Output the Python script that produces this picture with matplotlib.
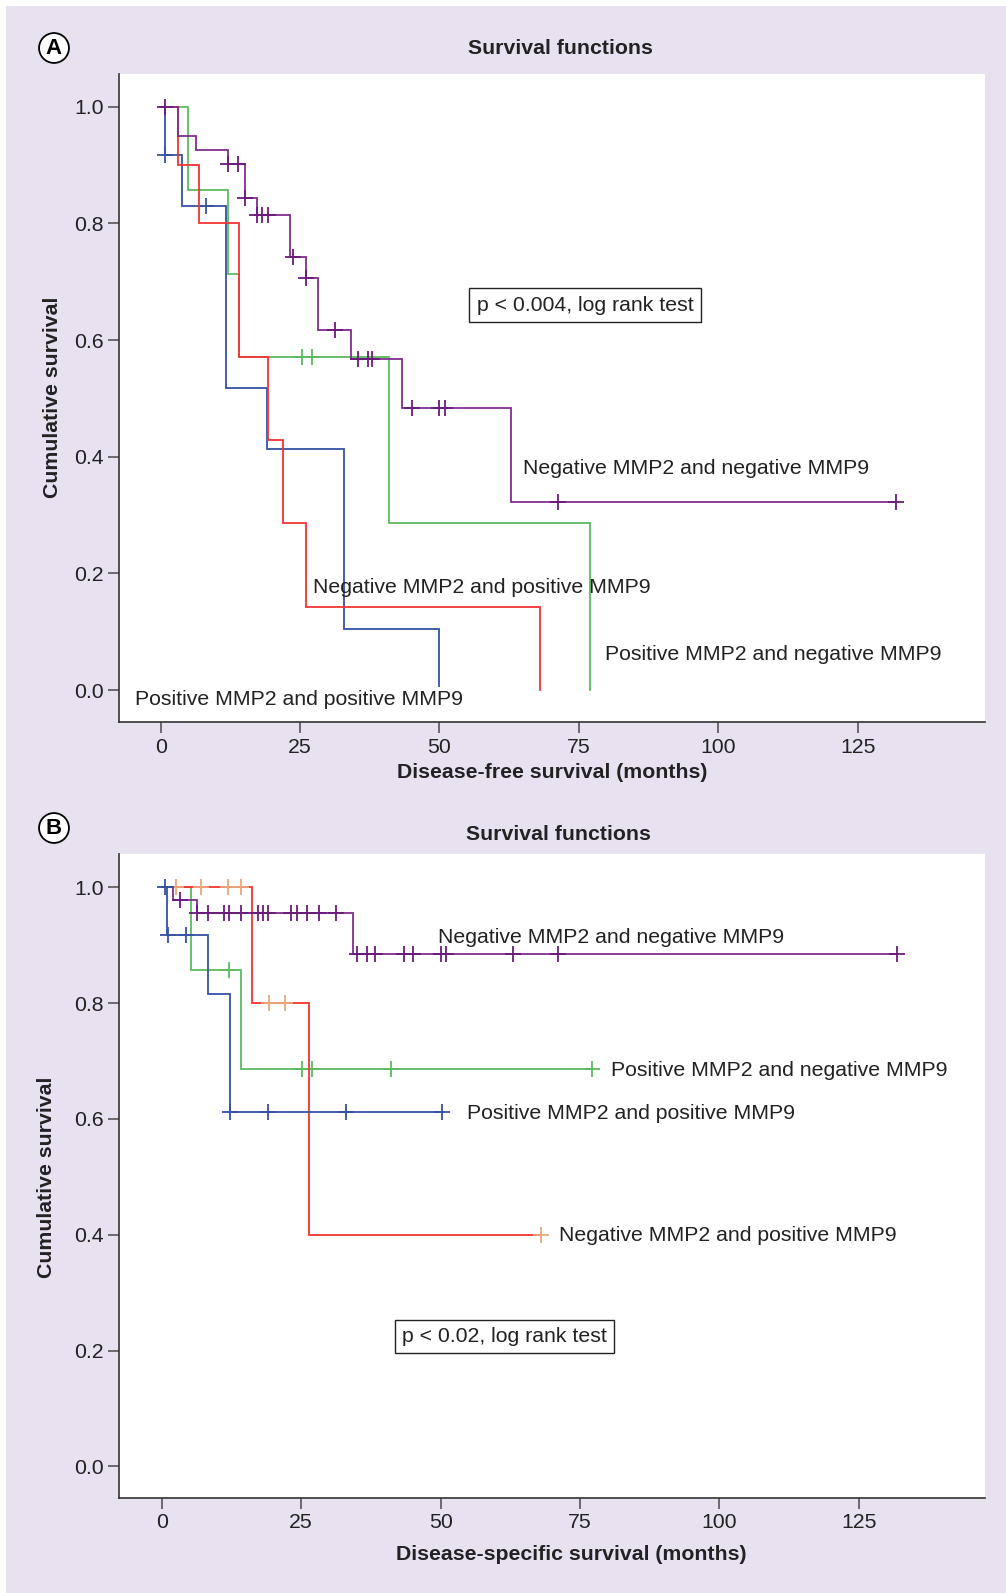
import numpy as np
import matplotlib
matplotlib.use("Agg")
import matplotlib.pyplot as plt
from matplotlib.patches import Rectangle

plt.rcParams['font.family'] = ['Liberation Sans', 'DejaVu Sans']

# ---------------- data ----------------
# Panel A: disease-free survival
A_nn_t = [3.1, 6.3, 12.1, 15.1, 17.3, 23.2, 26.1, 28.3, 34.1, 43.2, 62.8]
A_nn_s = [0.950, 0.925, 0.901, 0.843, 0.814, 0.743, 0.706, 0.617, 0.567, 0.483, 0.323]
A_nn_end = 131.8
A_nn_c = [0.8, 12.1, 13.9, 15.1, 17.3, 18.2, 19.3, 23.7, 26.1, 31.3, 35.3, 37.1,
          37.9, 45.1, 50.0, 50.9, 71.2, 131.8]

A_np_t = [3.1, 6.9, 14.1, 19.3, 22.0, 26.1, 68.0]
A_np_s = [0.9, 0.8, 0.571, 0.429, 0.286, 0.143, 0.0]
A_np_end = 68.0
A_np_c = []

A_pn_t = [4.9, 12.0, 14.1, 41.0, 77.0]
A_pn_s = [0.857, 0.714, 0.571, 0.286, 0.0]
A_pn_end = 77.0
A_pn_c = [25.3, 27.1]

A_pp_t = [0.8, 3.9, 11.8, 19.0, 32.9, 50.0]
A_pp_s = [0.917, 0.830, 0.518, 0.414, 0.104, 0.0]
A_pp_end = 50.0
A_pp_c = [0.8, 8.1]

# Panel B: disease-specific survival
B_nn_t = [2.1, 6.3, 34.3]
B_nn_s = [0.978, 0.956, 0.885]
B_nn_end = 131.9
B_nn_c = [3.3, 6.3, 8.3, 11.2, 12.1, 14.2, 17.2, 18.1, 19.0, 23.2, 24.2, 26.0, 28.2,
          31.2, 35.0, 36.9, 38.2, 43.4, 45.0, 50.1, 51.0, 63.0, 71.1, 131.9]

B_np_t = [16.2, 26.4]
B_np_s = [0.8, 0.4]
B_np_end = 68.0
B_np_c = [2.5, 7.0, 11.9, 14.2, 19.2, 22.1, 68.0]

B_pn_t = [5.3, 14.2]
B_pn_s = [0.857, 0.686]
B_pn_end = 77.1
B_pn_c = [12.1, 25.2, 27.0, 41.1, 77.1]

B_pp_t = [0.9, 8.4, 12.3]
B_pp_s = [0.917, 0.815, 0.611]
B_pp_end = 50.2
B_pp_c = [0.6, 1.1, 4.4, 12.3, 19.1, 33.1, 50.2]

x_ticks = [0, 25, 50, 75, 100, 125]
y_ticks = [0.0, 0.2, 0.4, 0.6, 0.8, 1.0]
y_ticklabels = ["0.0", "0.2", "0.4", "0.6", "0.8", "1.0"]

lbl_nn = "Negative MMP2 and negative MMP9"
lbl_np = "Negative MMP2 and positive MMP9"
lbl_pn = "Positive MMP2 and negative MMP9"
lbl_pp = "Positive MMP2 and positive MMP9"

# ---------------- style ----------------
W, H = 1006, 1593
LAV = '#E7E1F0'
PURPLE = '#7F2E8D'
PURPLE_C = '#6A1B7A'
RED = '#F53333'
GREEN = '#5DBB5F'
BLUE = '#3553A3'
ORANGE = '#E9A77A'
TXT = '#222222'
FS = 15.3

fig = plt.figure(figsize=(W / 100, H / 100), dpi=100, facecolor='white')
fig.patches.append(Rectangle((6 / W, 0), 1, 1 - 6 / H, transform=fig.transFigure,
                             facecolor=LAV, edgecolor='none', zorder=-10))


def px_axes(left, top, right, bottom):
    return fig.add_axes([left / W, 1 - bottom / H, (right - left) / W, (bottom - top) / H])


def km(ax, t, s, end, cens, color, ccolor=None, z=2):
    x = np.concatenate([[0.0], t, [end]])
    y = np.concatenate([[1.0], s, [s[-1]]])
    ax.step(x, y, where='post', color=color, lw=1.3, zorder=z, solid_joinstyle='miter')
    if len(cens):
        cens = np.asarray(cens)
        idx = np.searchsorted(np.asarray(t), cens, side='right')
        levels = np.concatenate([[1.0], s])[idx]
        ax.plot(cens, levels, ls='none', marker='+', ms=11, mew=1.3,
                color=ccolor or color, zorder=z + 0.5)


def style_axes(ax, ylo, yhi, xlo, xhi):
    ax.set_xlim(xlo, xhi)
    ax.set_ylim(ylo, yhi)
    for sp in ['top', 'right']:
        ax.spines[sp].set_visible(False)
    for sp in ['left', 'bottom']:
        ax.spines[sp].set_color('#333333')
        ax.spines[sp].set_linewidth(1.2)
    ax.set_xticks(x_ticks)
    ax.set_xticklabels([str(v) for v in x_ticks])
    ax.set_yticks(y_ticks)
    ax.set_yticklabels(y_ticklabels)
    ax.tick_params(direction='out', length=8, width=1.2, color='#555555',
                   labelsize=FS, labelcolor=TXT, pad=3)
    ax.set_facecolor('white')


# ---------------- panel A ----------------
axA = px_axes(119, 74, 985, 722.5)
style_axes(axA, -0.0557, 1.056, -7.46, 147.8)
km(axA, A_pn_t, A_pn_s, A_pn_end, A_pn_c, GREEN, z=2)
km(axA, A_pp_t, A_pp_s, A_pp_end, A_pp_c, BLUE, z=3)
km(axA, A_np_t, A_np_s, A_np_end, A_np_c, RED, z=4)
km(axA, A_nn_t, A_nn_s, A_nn_end, A_nn_c, PURPLE, PURPLE_C, z=5)

axA.text(65.0, 0.380, lbl_nn, fontsize=FS, color=TXT, ha='left', va='center', zorder=6)
axA.text(27.3, 0.175, lbl_np, fontsize=FS, color=TXT, ha='left', va='center', zorder=6)
axA.text(79.7, 0.061, lbl_pn, fontsize=FS, color=TXT, ha='left', va='center', zorder=6)
axA.text(-4.6, -0.017, lbl_pp, fontsize=FS, color=TXT, ha='left', va='center', zorder=6,
         bbox=dict(boxstyle='square,pad=0.15', fc='white', ec='none'))
axA.text(76.1, 0.660, "p < 0.004, log rank test", fontsize=FS, color=TXT,
         ha='center', va='center', zorder=6,
         bbox=dict(boxstyle='square,pad=0.36', fc='white', ec='#222222', lw=1.0))

# ---------------- panel B ----------------
axB = px_axes(119, 853.6, 985, 1498)
style_axes(axB, -0.0546, 1.058, -7.64, 147.6)
km(axB, B_pn_t, B_pn_s, B_pn_end, B_pn_c, GREEN, z=2)
km(axB, B_np_t, B_np_s, B_np_end, B_np_c, RED, ORANGE, z=3)
km(axB, B_nn_t, B_nn_s, B_nn_end, B_nn_c, PURPLE, PURPLE_C, z=4)
km(axB, B_pp_t, B_pp_s, B_pp_end, B_pp_c, BLUE, z=5)

axB.text(49.6, 0.914, lbl_nn, fontsize=FS, color=TXT, ha='left', va='center', zorder=6)
axB.text(80.6, 0.684, lbl_pn, fontsize=FS, color=TXT, ha='left', va='center', zorder=6)
axB.text(54.7, 0.610, lbl_pp, fontsize=FS, color=TXT, ha='left', va='center', zorder=6)
axB.text(71.3, 0.398, lbl_np, fontsize=FS, color=TXT, ha='left', va='center', zorder=6)
axB.text(61.5, 0.2246, "p < 0.02, log rank test", fontsize=FS, color=TXT,
         ha='center', va='center', zorder=6,
         bbox=dict(boxstyle='square,pad=0.33', fc='white', ec='#222222', lw=1.0))

# ---------------- figure texts ----------------
def ftext(x, y, s, **kw):
    fig.text(x / W, 1 - y / H, s, **kw)

ftext(560, 48, "Survival functions", fontsize=FS, fontweight='bold', color=TXT,
      ha='center', va='center')
ftext(558, 835, "Survival functions", fontsize=FS, fontweight='bold', color=TXT,
      ha='center', va='center')
ftext(53, 397, "Cumulative survival", fontsize=FS, fontweight='bold', color=TXT,
      ha='center', va='center', rotation=90)
ftext(47, 1177, "Cumulative survival", fontsize=FS, fontweight='bold', color=TXT,
      ha='center', va='center', rotation=90)
ftext(552, 773, "Disease-free survival (months)", fontsize=FS, fontweight='bold',
      color=TXT, ha='center', va='center')
ftext(571, 1555, "Disease-specific survival (months)", fontsize=FS, fontweight='bold',
      color=TXT, ha='center', va='center')
for lab, yy in [("A", 48), ("B", 828)]:
    ftext(54, yy, lab, fontsize=16, fontweight='bold', color='black', ha='center',
          va='center', bbox=dict(boxstyle='circle,pad=0.2', fc='white', ec='black', lw=1.3))

fig.savefig("out.png", dpi=100, facecolor=fig.get_facecolor())
